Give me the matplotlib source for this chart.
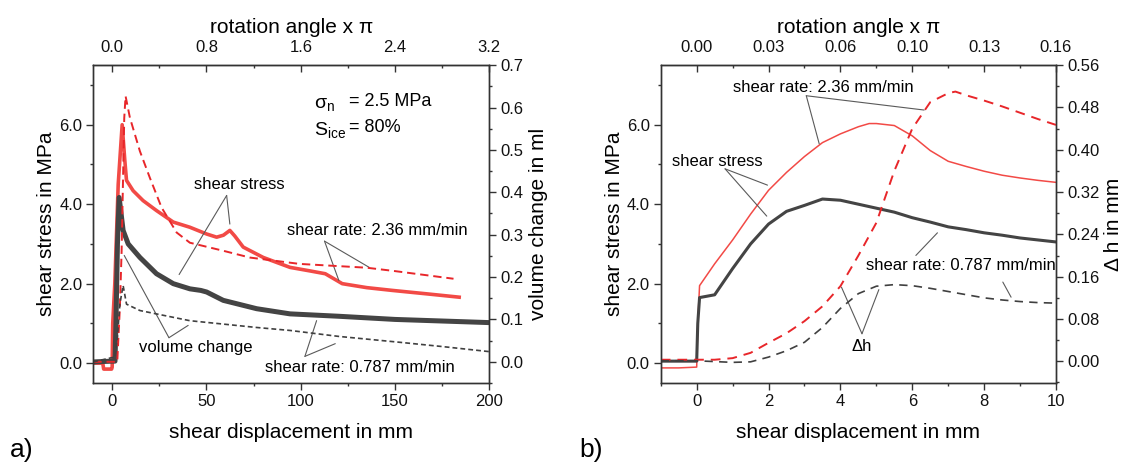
import numpy as np
import matplotlib
matplotlib.use("Agg")
import matplotlib.pyplot as plt

plt.rcParams["font.family"] = ["Liberation Sans", "DejaVu Sans"]
plt.rcParams["mathtext.fontset"] = "custom"
plt.rcParams["mathtext.rm"] = "Liberation Sans"
plt.rcParams["lines.scale_dashes"] = False

# ---- panel a: shear displacement 0..200 mm ----
a_red_x = [-10, -5, -4.5, -0.3, 0, 0.3, 1.4, 3.2, 5.3, 6.7, 7.6, 11.1, 16.4, 23.5, 32.4,
           41.2, 50.1, 55.4, 59, 62.4, 65, 69.5, 80.1, 94.3, 105, 113, 122, 135, 148.6, 167.6, 184]
a_red_y = [0.0, 0.0, -0.15, -0.15, -0.1, 1.0, 2.0, 4.5, 6.0, 5.1, 4.6, 4.34, 4.09, 3.84, 3.55,
           3.42, 3.25, 3.17, 3.22, 3.34, 3.2, 2.92, 2.66, 2.41, 2.32, 2.25, 2.0, 1.9, 1.83, 1.74, 1.66]

a_black_x = [-10, 0, 1.5, 2.0, 2.8, 3.7, 5.8, 8.5, 14.7, 23.5, 32.4, 41.2, 47, 50.1, 58.9,
             76.6, 94.3, 120, 150, 175, 200]
a_black_y = [0.03, 0.05, 0.05, 1.0, 3.0, 4.17, 3.34, 3.0, 2.66, 2.25, 2.0, 1.87, 1.83, 1.79, 1.58,
             1.37, 1.24, 1.18, 1.1, 1.06, 1.02]

a_red_vol_x = [-10, 2.7, 4.1, 5.0, 6.4, 7.1, 9.4, 14.7, 20, 26.2, 34.2, 41.2, 58.9, 73, 99.4,
               135, 150, 181]
a_red_vol_y = [0.0, 0.0, 0.13, 0.26, 0.575, 0.627, 0.576, 0.497, 0.434, 0.364, 0.305, 0.281,
               0.262, 0.246, 0.231, 0.222, 0.214, 0.196]

a_black_vol_x = [-10, 0, 1.4, 2.8, 4.1, 5.8, 7.6, 14.7, 23.5, 41.2, 58.9, 76.6, 94.3, 120,
                 152.6, 175, 200]
a_black_vol_y = [0.0, 0.01, 0.01, 0.06, 0.137, 0.18, 0.136, 0.121, 0.113, 0.097, 0.089, 0.081,
                 0.074, 0.06, 0.046, 0.036, 0.024]

# ---- panel b: shear displacement 0..10 mm ----
b_red_x = [-1, -0.5, 0, 0.03, 0.08, 0.5, 1.0, 1.5, 2.0, 2.5, 3.0, 3.5, 4.0, 4.5, 4.8, 5.0, 5.5,
           6.0, 6.5, 7.0, 7.5, 8.0, 8.5, 9.0, 9.5, 10]
b_red_y = [-0.12, -0.12, -0.1, 1.0, 1.95, 2.5, 3.1, 3.75, 4.35, 4.8, 5.2, 5.55, 5.77, 5.95, 6.03,
           6.03, 5.98, 5.72, 5.35, 5.08, 4.95, 4.83, 4.73, 4.66, 4.6, 4.55]

b_black_x = [-1, 0, 0.03, 0.08, 0.5, 1.0, 1.5, 2.0, 2.5, 3.0, 3.5, 4.0, 4.5, 5.0, 5.5, 6.0, 6.5,
             7.0, 7.5, 8.0, 8.5, 9.0, 9.5, 10]
b_black_y = [0.05, 0.05, 1.0, 1.65, 1.72, 2.38, 3.0, 3.5, 3.82, 3.97, 4.13, 4.1, 4.0, 3.9, 3.8,
             3.66, 3.55, 3.43, 3.36, 3.28, 3.22, 3.15, 3.1, 3.05]

b_red_dh_x = [-1, 0, 0.5, 1.0, 1.5, 2.0, 2.5, 3.0, 3.5, 4.0, 4.5, 5.0, 5.5, 6.0, 6.5, 7.0, 7.2,
              7.5, 8.0, 8.5, 9.0, 9.5, 10]
b_red_dh_y = [0.003, 0.003, 0.003, 0.006, 0.016, 0.035, 0.053, 0.076, 0.104, 0.142, 0.2, 0.262,
              0.36, 0.44, 0.49, 0.507, 0.51, 0.503, 0.493, 0.482, 0.47, 0.458, 0.447]

b_black_dh_x = [-1, 0, 1.0, 1.5, 2.0, 2.5, 3.0, 3.5, 4.0, 4.5, 5.0, 5.5, 6.0, 6.5, 7.0, 7.5,
                8.0, 8.5, 9.0, 9.5, 10]
b_black_dh_y = [0.001, 0.001, -0.002, -0.001, 0.008, 0.02, 0.036, 0.064, 0.1, 0.128, 0.142,
                0.145, 0.143, 0.138, 0.132, 0.126, 0.12, 0.116, 0.113, 0.111, 0.11]

RED = "#f24a46"
RED_D = "#e8262a"
BLACK = "#444444"
BLACK_D = "#404040"
AX_C = "#333333"
LEAD = "#5a5a5a"


def style_axes(ax, ax2, top, xmaj, xmin, ymaj2, ymin2, topmaj, topmin, topfmt, y2fmt):
    for a in (ax, ax2):
        for s in a.spines.values():
            s.set_color(AX_C)
            s.set_linewidth(1.0)
    ax.set_ylim(-0.5, 7.5)
    ax.set_yticks([0, 2, 4, 6])
    ax.set_yticks([1, 3, 5, 7], minor=True)
    ax.set_yticklabels(["0.0", "2.0", "4.0", "6.0"])
    ax.set_xticks(xmaj)
    ax.set_xticks(xmin, minor=True)
    ax.tick_params(which="both", direction="out", colors=AX_C, labelcolor="#111111",
                   labelsize=12, pad=3, top=False, right=False)
    ax.tick_params(which="major", length=5, width=1)
    ax.tick_params(which="minor", length=2.5, width=1)
    ax2.set_yticks(ymaj2)
    ax2.set_yticks(ymin2, minor=True)
    ax2.set_yticklabels([y2fmt % v for v in ymaj2])
    ax2.tick_params(which="both", direction="out", colors=AX_C, labelcolor="#111111",
                    labelsize=12, pad=3)
    ax2.tick_params(which="major", length=5, width=1)
    ax2.tick_params(which="minor", length=2.5, width=1)
    top.set_xticks(topmaj)
    top.set_xticks(topmin, minor=True)
    top.set_xticklabels([topfmt % v for v in topmaj])
    top.tick_params(which="both", direction="in", colors=AX_C, labelcolor="#111111",
                    labelsize=12, pad=7)
    top.tick_params(which="major", length=5, width=1)
    top.tick_params(which="minor", length=2.5, width=1)
    top.spines["top"].set_color(AX_C)
    ax.set_xlabel("shear displacement in mm", fontsize=15, labelpad=10)
    ax.set_ylabel("shear stress in MPa", fontsize=15, labelpad=2)
    top.set_xlabel("rotation angle x π", fontsize=15, labelpad=5)


def lead(ax, start, ends):
    for e in ends:
        ax.annotate("", xy=e, xytext=start,
                    arrowprops=dict(arrowstyle="-", color=LEAD, lw=0.8,
                                    shrinkA=0, shrinkB=0))


fig = plt.figure(figsize=(11.27, 4.62), dpi=100)

# ---------------- panel a ----------------
ax = fig.add_axes([0.0828, 0.171, 0.3514, 0.688])
ax.set_xlim(-10, 200)
ax.plot(a_red_x, a_red_y, color=RED, lw=2.6, solid_joinstyle="round")
ax.plot(a_black_x, a_black_y, color=BLACK, lw=3.6, solid_joinstyle="round")
ax2 = ax.twinx()
ax2.set_ylim(-0.05, 0.7)
ax2.plot(a_red_vol_x, a_red_vol_y, color=RED_D, lw=1.4, dashes=(6, 3.5))
ax2.plot(a_black_vol_x, a_black_vol_y, color=BLACK_D, lw=1.2, dashes=(3.5, 2.2))
top = ax.secondary_xaxis("top", functions=(lambda x: x * 0.016, lambda r: r / 0.016))
style_axes(ax, ax2, top, [0, 50, 100, 150, 200], [25, 75, 125, 175],
           [0, 0.1, 0.2, 0.3, 0.4, 0.5, 0.6, 0.7], np.arange(-0.05, 0.7, 0.1),
           [0, 0.8, 1.6, 2.4, 3.2], [0.4, 1.2, 2.0, 2.8], "%.1f", "%.1f")
ax.set_xticklabels(["0", "50", "100", "150", "200"])
ax2.set_ylabel("volume change in ml", fontsize=15, labelpad=4)

ax.text(67.2, 4.49, "shear stress", fontsize=12, ha="center", va="center")
lead(ax, (60.7, 4.22), [(62.4, 3.5), (35.5, 2.23)])
ax.text(44.5, 0.40, "volume change", fontsize=12, ha="center", va="center")
lead(ax, (30.1, 0.64), [(6.4, 2.71), (40.3, 0.95)])
ax.text(140.6, 3.34, "shear rate: 2.36 mm/min", fontsize=12, ha="center", va="center")
lead(ax, (112.6, 3.07), [(120.2, 2.08), (136.3, 2.41)])
ax.text(131.2, -0.1, "shear rate: 0.787 mm/min", fontsize=12, ha="center", va="center")
lead(ax, (102.2, 0.17), [(108.4, 1.07), (118.3, 0.49)])
ax.text(107, 6.5, r"σ$_{\rm n}$", fontsize=14, ha="left", va="center")
ax.text(125.8, 6.58, "= 2.5 MPa", fontsize=13, ha="left", va="center")
ax.text(107, 5.85, r"S$_{\rm ice}$", fontsize=14, ha="left", va="center")
ax.text(125.8, 5.93, "= 80%", fontsize=13, ha="left", va="center")

# ---------------- panel b ----------------
bx = fig.add_axes([0.5863, 0.171, 0.3507, 0.688])
bx.set_xlim(-1, 10)
bx.plot(b_red_x, b_red_y, color=RED, lw=1.1)
bx.plot(b_black_x, b_black_y, color=BLACK, lw=2.2)
bx2 = bx.twinx()
bx2.set_ylim(-0.041, 0.558)
bx2.plot(b_red_dh_x, b_red_dh_y, color=RED_D, lw=1.4, dashes=(7, 5))
bx2.plot(b_black_dh_x, b_black_dh_y, color=BLACK_D, lw=1.2, dashes=(6, 4.5))
btop = bx.secondary_xaxis("top", functions=(lambda x: x * 0.016, lambda r: r / 0.016))
style_axes(bx, bx2, btop, [0, 2, 4, 6, 8, 10], [-1, 1, 3, 5, 7, 9],
           [0, 0.08, 0.16, 0.24, 0.32, 0.40, 0.48, 0.56], np.arange(-0.04, 0.56, 0.08),
           [0, 0.032, 0.064, 0.096, 0.128, 0.16], [0.016, 0.048, 0.08, 0.112, 0.144],
           "%.2f", "%.2f")
bx2.set_ylabel("Δ h in mm", fontsize=15, labelpad=3)

bx.text(3.53, 6.94, "shear rate: 2.36 mm/min", fontsize=12, ha="center", va="center")
lead(bx, (3.05, 6.73), [(3.41, 5.52), (6.33, 6.37)])
bx.text(0.58, 5.08, "shear stress", fontsize=12, ha="center", va="center")
lead(bx, (0.79, 4.89), [(1.97, 4.48), (1.95, 3.7)])
bx.text(7.35, 2.46, "shear rate: 0.787 mm/min", fontsize=12, ha="center", va="center")
lead(bx, (6.1, 2.71), [(6.7, 3.28)])
lead(bx, (8.52, 2.04), [(8.75, 1.66)])
bx.text(4.6, 0.43, "Δh", fontsize=12, ha="center", va="center")
lead(bx, (4.6, 0.74), [(4.03, 1.91), (5.07, 1.85)])

fig.text(0.009, 0.0, "a)", fontsize=19, ha="left", va="bottom")
fig.text(0.514, 0.0, "b)", fontsize=19, ha="left", va="bottom")

fig.savefig("out.png", dpi=100)
